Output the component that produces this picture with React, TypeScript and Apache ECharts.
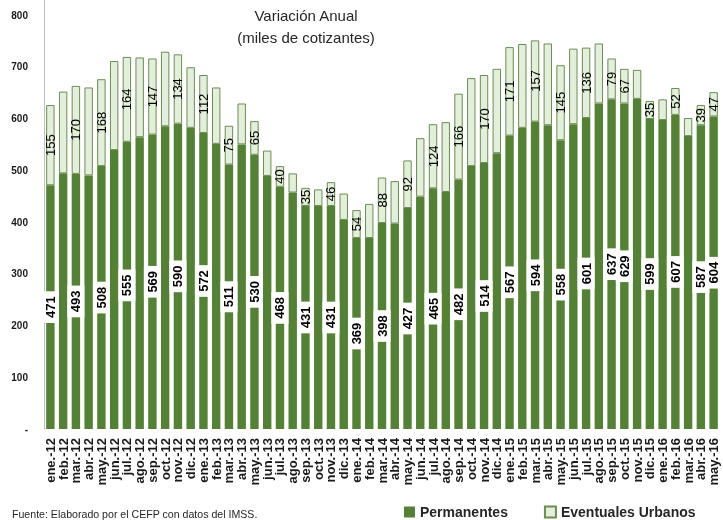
import React, { useEffect, useRef } from "react";
import * as echarts from "echarts";

const categories = [
  "ene.-12","feb.-12","mar.-12","abr.-12","may.-12","jun.-12","jul.-12","ago.-12","sep.-12","oct.-12","nov.-12","dic.-12",
  "ene.-13","feb.-13","mar.-13","abr.-13","may.-13","jun.-13","jul.-13","ago.-13","sep.-13","oct.-13","nov.-13","dic.-13",
  "ene.-14","feb.-14","mar.-14","abr.-14","may.-14","jun.-14","jul.-14","ago.-14","sep.-14","oct.-14","nov.-14","dic.-14",
  "ene.-15","feb.-15","mar.-15","abr.-15","may.-15","jun.-15","jul.-15","ago.-15","sep.-15","oct.-15","nov.-15","dic.-15",
  "ene.-16","feb.-16","mar.-16","abr.-16","may.-16",
];

const permanentes = [
  471, 494, 493, 490, 508, 539, 555, 564, 569, 585, 590, 582,
  572, 551, 511, 550, 530, 489, 468, 457, 431, 431, 431, 404,
  369, 369, 398, 397, 427, 449, 465, 458, 482, 508, 514, 533,
  567, 582, 594, 587, 558, 589, 601, 629, 637, 629, 638, 599,
  597, 607, 566, 587, 604,
];

const eventuales = [
  155, 158, 170, 170, 168, 172, 164, 154, 147, 144, 134, 117,
  112, 109, 75, 79, 65, 49, 40, 37, 35, 32, 46, 51,
  54, 66, 88, 82, 92, 113, 124, 135, 166, 170, 170, 163,
  171, 162, 157, 158, 145, 146, 136, 116, 79, 67, 56, 35,
  40, 52, 35, 39, 47,
];

const labeledIdx = [0, 2, 4, 6, 8, 10, 12, 14, 16, 18, 20, 22, 24, 26, 28, 30, 32, 34, 36, 38, 40, 42, 44, 45, 47, 49, 51, 52];

const yTicks = [0, 100, 200, 300, 400, 500, 600, 700, 800];

const DARK = "#548235";
const LIGHT = "#E2EFDA";
const LIGHT_BORDER = "#6B8E52";
const FONT = "'Liberation Sans', Arial, sans-serif";

export default function App() {
  const ref = useRef<HTMLDivElement>(null);
  useEffect(() => {
    if (!ref.current) return;
    const chart = echarts.init(ref.current, null, { renderer: "svg" });
    const permData = permanentes.map((v, i) => ({
      value: v,
      label: { show: labeledIdx.includes(i) },
    }));
    const evtData = eventuales.map((v, i) => ({
      value: v,
      label: { show: labeledIdx.includes(i) },
    }));
    chart.setOption({
      animation: false,
      textStyle: { fontFamily: FONT },
      title: {
        text: "Variación Anual\n(miles de cotizantes)",
        left: 306,
        top: 4,
        padding: 0,
        textAlign: "center",
        textStyle: {
          fontFamily: FONT,
          fontSize: 15,
          fontWeight: "normal",
          color: "#262626",
          lineHeight: 22,
        },
      },
      legend: {
        left: 399,
        top: 500,
        itemWidth: 11,
        itemHeight: 11,
        itemGap: 36,
        icon: "rect",
        textStyle: { fontFamily: FONT, fontSize: 14, fontWeight: "bold", color: "#262626" },
        data: ["Permanentes", "Eventuales Urbanos"],
      },
      grid: { left: 44, right: 3, top: 0, bottom: 91, containLabel: false },
      xAxis: {
        type: "category",
        data: categories,
        axisTick: { show: false },
        axisLine: { show: false },
        axisLabel: {
          interval: 0,
          rotate: 90,
          margin: 9,
          fontFamily: FONT,
          fontSize: 13,
          fontWeight: "bold",
          color: "#1a1a1a",
        },
      },
      yAxis: {
        type: "value",
        min: 0,
        max: 829,
        interval: 100,
        splitLine: { show: false },
        axisTick: { show: false },
        axisLine: { show: true, lineStyle: { color: "#BFBFBF", width: 1 } },
        axisLabel: {
          margin: 16,
          fontFamily: FONT,
          fontSize: 10,
          fontWeight: "bold",
          color: "#1a1a1a",
          formatter: (v: number) => (v === 0 ? "-" : yTicks.includes(v) ? String(v) : ""),
        },
      },
      series: [
        {
          name: "Permanentes",
          type: "bar",
          stack: "total",
          barCategoryGap: "34%",
          itemStyle: { color: DARK },
          label: {
            position: "inside",
            rotate: 90,
            fontFamily: FONT,
            fontSize: 13,
            fontWeight: "bold",
            color: "#000",
            backgroundColor: "#fff",
            padding: [2, 5, 2, 5],
            textBorderWidth: 0,
          },
          data: permData,
        },
        {
          name: "Eventuales Urbanos",
          type: "bar",
          stack: "total",
          barCategoryGap: "34%",
          itemStyle: { color: LIGHT, borderColor: LIGHT_BORDER, borderWidth: 1 },
          label: {
            position: "inside",
            rotate: 90,
            fontFamily: FONT,
            fontSize: 13,
            color: "#000",
            textBorderWidth: 0,
          },
          data: evtData,
        },
      ],
      graphic: [
        {
          type: "text",
          left: 12,
          top: 508,
          style: {
            text: "Fuente: Elaborado por el CEFP con datos del IMSS.",
            fontFamily: FONT,
            fontSize: 10.6,
            fill: "#262626",
          },
        },
      ],
    });
    return () => chart.dispose();
  }, []);
  return <div ref={ref} style={{ position: "fixed", left: 0, top: 0, width: 723, height: 520 }} />;
}
